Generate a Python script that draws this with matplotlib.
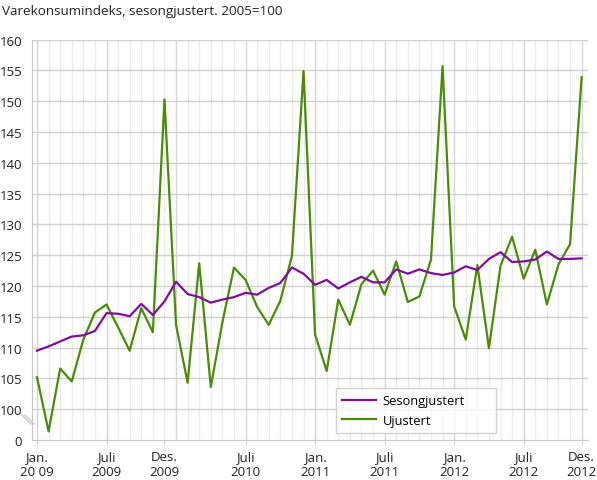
import matplotlib.pyplot as plt
import numpy as np

# Data: monthly Jan 2009 - Dec 2012
sesongjustert = [109.5, 110.2, 111.0, 111.8, 112.0, 112.7, 115.6, 115.5, 115.1, 117.1, 115.3, 117.5,
                 120.7, 118.7, 118.2, 117.3, 117.8, 118.2, 118.9, 118.6, 119.7, 120.5, 123.0, 122.0,
                 120.2, 121.0, 119.6, 120.6, 121.5, 120.6, 120.6, 122.7, 122.0, 122.7, 122.1, 121.8,
                 122.2, 123.2, 122.6, 124.4, 125.5, 123.9, 124.0, 124.3, 125.6, 124.4, 124.4, 124.5]
ujustert = [105.2, 96.4, 106.6, 104.5, 111.3, 115.7, 117.0, 113.3, 109.5, 116.4, 112.5, 150.3,
            113.7, 104.3, 123.7, 103.6, 114.1, 123.0, 121.0, 116.6, 113.7, 117.6, 124.9, 154.9,
            112.1, 106.2, 117.8, 113.7, 120.3, 122.5, 118.6, 124.0, 117.4, 118.3, 124.3, 155.7,
            116.7, 111.3, 123.4, 109.9, 123.3, 128.0, 121.2, 125.9, 117.0, 123.5, 126.8, 153.9]

xtick_pos = [0, 6, 11, 18, 24, 30, 36, 42, 47]
xtick_labels = ['Jan.\n20 09', 'Juli\n2009', 'Des.\n2009', 'Juli\n2010', 'Jan.\n2011',
                'Juli\n2011', 'Jan.\n2012', 'Juli\n2012', 'Des.\n2012']
ytick_vals = [95, 100, 105, 110, 115, 120, 125, 130, 135, 140, 145, 150, 155, 160]
ytick_labels = ['0'] + [str(v) for v in ytick_vals[1:]]

plt.rcParams['font.family'] = ['Open Sans', 'DejaVu Sans']

W, H = 597, 481
fig = plt.figure(figsize=(W / 100, H / 100), dpi=100)
ax = fig.add_axes([32 / W, 1 - 441 / H, (588 - 32) / W, (441 - 40.7) / H])

x = np.arange(len(ujustert))

# grid
for i in x:
    major = (i % 6 == 0) or i == len(x) - 1
    ax.axvline(i, color='#d6d6d6' if major else '#ececec', lw=1.0, zorder=0)
for v in ytick_vals[1:]:
    ax.axhline(v, color='#d0d0d0', lw=1.0, zorder=0)

ax.plot(x, ujustert, color='#4b8a0a', lw=1.6, zorder=2, label='Ujustert')
ax.plot(x, sesongjustert, color='#7d0f9a', lw=1.6, zorder=3, label='Sesongjustert')

ax.set_xlim(-0.43, 47.55)
ax.set_ylim(95, 160)
ax.set_yticks(ytick_vals)
ax.set_yticklabels(ytick_labels)
ax.set_xticks(xtick_pos)
ax.set_xticklabels(xtick_labels, linespacing=1.25)
ax.tick_params(axis='y', length=0, pad=7, labelsize=9.5, colors='#222222')
ax.tick_params(axis='x', length=3, color='#d0d0d0', pad=4, labelsize=9.5, colors='#222222')

for s in ['top', 'right']:
    ax.spines[s].set_visible(False)
ax.spines['left'].set_color('#c8c8c8')
ax.spines['bottom'].set_color('#c8c8c8')

# axis break marks
for dx in (0, 3):
    x0 = (22 + dx - 32) / 556
    x1 = (31 + dx - 32) / 556
    ax.plot([x0, x1], [(441 - 416) / 400.3, (441 - 425) / 400.3], transform=ax.transAxes,
            color='#c8c8c8', lw=1.0, clip_on=False)

# legend box spans x 336-496 px, y 392-434 px
h, l = ax.get_legend_handles_labels()
leg = ax.legend(h[::-1], l[::-1], loc='lower left', mode='expand',
                bbox_to_anchor=((336 - 32) / 556, (441 - 434) / 400.3, 160 / 556, 42 / 400.3),
                fontsize=9.3, frameon=True, fancybox=False, edgecolor='#c8c8c8',
                handlelength=2.6, handletextpad=0.5, borderpad=0.5, labelspacing=0.5,
                borderaxespad=0)
leg.get_frame().set_linewidth(1.0)
leg.set_zorder(5)

fig.text(2 / W, 1 - 12 / H, 'Varekonsumindeks, sesongjustert. 2005=100', fontsize=9.7,
         va='center', ha='left', color='#222222')

fig.savefig('out.png', dpi=100)
